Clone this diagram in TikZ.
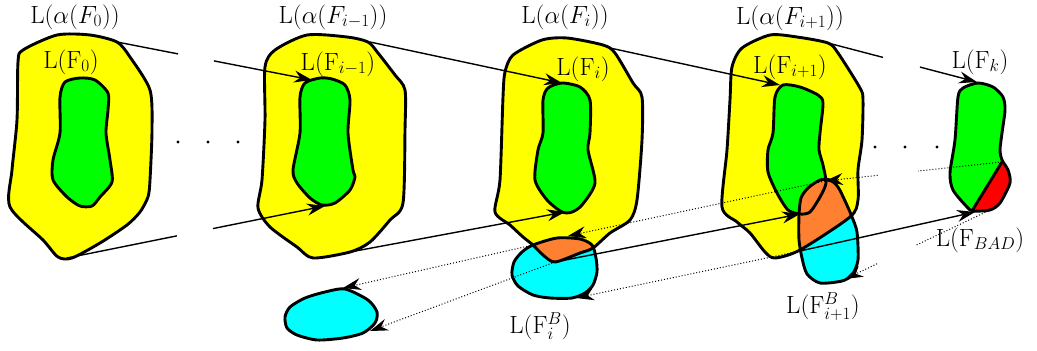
\documentclass[tikz,border=0pt]{standalone}
\usetikzlibrary{calc,arrows.meta}
\definecolor{alphaColor}{RGB}{255,255,0}
\definecolor{setColor}{RGB}{0,255,0}
\definecolor{badColor}{RGB}{0,255,255}
\definecolor{overlapColor}{RGB}{255,128,48}
\definecolor{errorColor}{RGB}{255,0,0}

\begin{document}
\begin{tikzpicture}[
        x=1pt, y=-1pt,
        blob/.style={
                draw,
                line width=2.9pt,
                line join=round
            },
        link/.style={line width=1.4pt},
        arrowlink/.style={link, -{Stealth[length=18pt, width=12pt, inset=6pt]}},
        backlink/.style={dotted, line width=1pt, -{Stealth[length=18pt, width=12pt, inset=6pt]}},
        lab/.style={font=\fontsize{27}{30}\selectfont}
    ]
    \useasboundingbox (0,0) rectangle (1037,351);

    % ---- Outlines ----
    \def\smoothing{0.45}
    \def\alphaThree{plot[smooth cycle, tension=\smoothing] coordinates {(505,72) (513,55) (542,40) (567,38) (603,45) (615,53) (633,83) (642,97) (642,140) (637,200) (630,220) (610,233) (593,248) (580,253) (555,262) (543,255) (533,245) (523,237) (510,225) (495,212) (500,180) (503,97)}}
    \def\badThree{plot[smooth cycle, tension=\smoothing] coordinates {(533,245) (557,238) (580,239) (592,245) (596,258) (597,272) (593,285) (585,293) (572,298) (550,298) (533,295) (518,286) (512,275) (514,262) (522,252)}}
    \def\alphaFour{plot[smooth cycle, tension=\smoothing] coordinates {(732,67) (742,48) (770,35) (797,37) (828,43) (838,53) (860,88) (863,100) (862,140) (858,170) (858,200) (850,217) (800,250) (775,258) (765,252) (750,233) (737,222) (722,207) (727,150) (730,100)}}
    \def\setFour{plot[smooth cycle, tension=\smoothing] coordinates {(783,85) (800,87) (818,95) (823,103) (820,133) (819,150) (823,165) (826,183) (820,197) (810,212) (800,214) (788,210) (777,193) (768,172) (768,150) (773,133) (775,97)}}
    \def\badFour{plot[smooth cycle, tension=\smoothing] coordinates {(801,198) (808,188) (820,180) (830,180) (838,187) (846,203) (852,217) (857,232) (858,260) (852,275) (842,281) (820,283) (807,274) (802,258) (799,240) (799,215)}}
    \def\setK{plot[smooth cycle, tension=\smoothing] coordinates {(978,83) (993,87) (1003,97) (1005,110) (1002,133) (1000,150) (1002,160) (1008,170) (1010,183) (1000,203) (990,210) (973,211) (967,207) (953,190) (950,173) (955,140) (958,97) (963,88)}}

    % ---- F_0 ----
    \filldraw[blob, fill=alphaColor] plot[smooth cycle, tension=\smoothing] coordinates {(18,62) (23,50) (57,35) (90,35) (117,42) (130,57) (150,90) (152,130) (150,180) (148,197) (140,212) (127,225) (100,243) (72,258) (58,257) (43,240) (10,207) (12,170) (17,120)};
    \filldraw[blob, fill=setColor] plot[smooth cycle, tension=\smoothing] coordinates {(80,78) (95,80) (108,93) (108,110) (106,133) (110,160) (112,182) (100,197) (92,206) (80,206) (67,197) (53,180) (53,160) (60,133) (60,97) (65,82)};

    % ---- F_{i-1} ----
    \filldraw[blob, fill=alphaColor] plot[smooth cycle, tension=\smoothing] coordinates {(265,67) (275,50) (307,35) (347,37) (368,42) (378,53) (395,75) (405,90) (405,130) (403,203) (390,220) (370,242) (350,252) (313,258) (297,247) (270,227) (258,208) (262,180) (265,120)};
    \filldraw[blob, fill=setColor] plot[smooth cycle, tension=\smoothing] coordinates {(320,78) (332,79) (345,85) (350,100) (348,133) (353,170) (355,177) (350,190) (335,203) (322,205) (310,198) (297,183) (293,170) (300,133) (300,97) (305,83)};
    \filldraw[blob, fill=badColor] plot[smooth cycle, tension=\smoothing] coordinates {(345,289) (368,300) (377,312) (375,323) (363,333) (343,338) (317,340) (297,335) (287,328) (285,317) (290,307) (305,298) (325,292)};

    % ---- F_i ----
    \fill[alphaColor] \alphaThree;
    \filldraw[blob, fill=setColor] plot[smooth cycle, tension=\smoothing] coordinates {(562,83) (580,87) (590,100) (590,133) (588,150) (595,183) (582,205) (572,212) (562,212) (547,200) (535,180) (538,150) (543,133) (543,100) (548,88)};
    \fill[badColor] \badThree;
    \begin{scope}
        \clip \alphaThree;
        \fill[overlapColor] \badThree;
    \end{scope}
    \draw[blob] \alphaThree;
    \draw[blob] \badThree;

    % ---- F_{i+1} ----
    \fill[alphaColor] \alphaFour;
    \fill[setColor] \setFour;
    \fill[badColor] \badFour;
    \begin{scope}
        \clip \alphaFour;
        \fill[overlapColor] \badFour;
    \end{scope}
    \draw[blob] \alphaFour;
    \draw[blob] \setFour;
    \draw[blob] \badFour;

    % ---- F_k ----
    \fill[setColor] \setK;
    \begin{scope}
        \clip \setK;
        \fill[errorColor] (1002,162) -- (1040,150) -- (1040,240) -- (965,222.4) -- cycle;
    \end{scope}
    \draw[blob] \setK;
    \draw[blob] (1002,162) -- (972,211);

    % ---- dots ----
    \foreach \x in {178,208,238} \fill (\x,142) circle (1.7pt);
    \foreach \x in {875,905,937} \fill (\x,147) circle (1.7pt);

    % ---- Labels ----
    \node[lab] (la0) at (75,17) {$\mathrm{L}(\alpha(F_0))$};
    \node[lab] (lf0) at (71,62) {$\mathrm{L}(\mathrm{F}_0)$};
    \node[lab] (la1) at (333,17) {$\mathrm{L}(\alpha(F_{i-1}))$};
    \node[lab] (lf1) at (338,64) {$\mathrm{L}(\mathrm{F}_{i-1})$};
    \node[lab] (la2) at (565,17) {$\mathrm{L}(\alpha(F_i))$};
    \node[lab] (lf2) at (583,69) {$\mathrm{L}(\mathrm{F}_i)$};
    \node[lab] (la3) at (790,18) {$\mathrm{L}(\alpha(F_{i+1}))$};
    \node[lab] (lf3) at (790,67) {$\mathrm{L}(\mathrm{F}_{i+1})$};
    \node[lab] (lfk) at (980,62) {$\mathrm{L}(\mathrm{F}_k)$};
    \node[lab] (lbad) at (980,240) {$\mathrm{L}(\mathrm{F}_{BAD})$};
    \node[lab] (lb3) at (823,307) {$\mathrm{L}(\mathrm{F}_{i+1}^B)$};
    \node[lab] (lb2) at (540,326) {$\mathrm{L}(\mathrm{F}_i^B)$};

    % ---- Link ends ----
    \coordinate (a0top) at (117,42);  \coordinate (f1top) at (312,80);
    \coordinate (a0bot) at (67,258);  \coordinate (f1bot) at (325,206);
    \coordinate (a1top) at (370,42);  \coordinate (f2top) at (562,83);
    \coordinate (a1bot) at (350,252); \coordinate (f2bot) at (565,212);
    \coordinate (a2top) at (610,48);  \coordinate (f3top) at (780,85);
    \coordinate (a2bot) at (555,262); \coordinate (f3bot) at (800,214);
    \coordinate (a3top) at (828,43);  \coordinate (fktop) at (977,82);
    \coordinate (a3bot) at (800,251); \coordinate (fkbad) at (975,212);
    \coordinate (o2left) at (533,245);
    \coordinate (b2top) at (568,236); \coordinate (b2bot) at (576,298);
    \coordinate (b3top) at (825,181); \coordinate (b3bot) at (845,279);
    \coordinate (bltop) at (343,288); \coordinate (blright) at (370,331);
    \coordinate (badup) at (1002,162); \coordinate (badlow) at (988,211);

    % ---- forward links ----
    \draw[link] (a0top) -- ($(a0top)!0.313!(f1top)$);
    \draw[arrowlink] ($(a0top)!0.497!(f1top)$) -- (f1top);
    \draw[link] (a0bot) -- ($(a0bot)!0.426!(f1bot)$);
    \draw[arrowlink] ($(a0bot)!0.566!(f1bot)$) -- (f1bot);
    \draw[arrowlink] (a1top) -- (f2top);
    \draw[arrowlink] (a1bot) -- (f2bot);
    \draw[arrowlink] (a2top) -- (f3top);
    \draw[arrowlink] (a2bot) -- (f3bot);
    \draw[link] (a3top) -- ($(a3top)!0.369!(fktop)$);
    \draw[arrowlink] ($(a3top)!0.617!(fktop)$) -- (fktop);
    \draw[arrowlink] (a3bot) -- (fkbad);

    % ---- backward links (dotted) ----
    \draw[dotted, line width=1pt] (badup) -- ($(badup)!0.474!(b3top)$);
    \draw[backlink] ($(badup)!0.703!(b3top)$) -- (b3top);
    \draw[dotted, line width=1pt] (badlow) -- ($(badlow)!0.51!(b3bot)$);
    \draw[backlink] ($(badlow)!0.776!(b3bot)$) -- (b3bot);
    \draw[backlink] (b3top) -- (b2top);
    \draw[backlink] (a3bot) -- (b2bot);
    \draw[backlink] (o2left) -- (bltop);
    \draw[backlink] (a2bot) -- (blright);
\end{tikzpicture}
\end{document}
